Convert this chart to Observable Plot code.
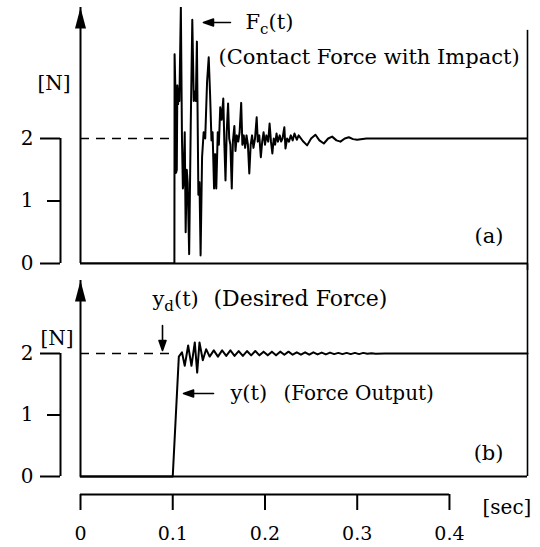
<!DOCTYPE html>
<html><head><meta charset="utf-8">
<script src="https://cdn.jsdelivr.net/npm/d3@7"></script>
<script src="https://cdn.jsdelivr.net/npm/@observablehq/plot@0.6"></script>
<style>
body{margin:0;background:#fff;}
#chart{position:relative;width:540px;height:547px;overflow:hidden;}
#chart svg{position:absolute;left:0;}
</style></head><body><div id="chart"></div>
<script>
// ---------- data ----------
// (a) contact force with impact, Fc(t) [N]
const fcTime = [0,0.1018,0.1020,0.1030,0.1036,0.1044,0.1050,0.1058,0.1066,0.1072,0.1088,0.1100,0.1110,0.1118,0.1130,0.1140,0.1152,0.1162,0.1178,0.1195,0.1212,0.1228,0.1238,0.1250,0.1262,0.1278,0.1290,0.1302,0.1318,0.1335,0.1352,0.1372,0.1390,0.1405,0.1420,0.1432,0.1448,0.1460,0.1472,0.1488,0.1500,0.1515,0.1530,0.1548,0.1560,0.1572,0.1585,0.1600,0.1612,0.1625,0.1640,0.1652,0.1668,0.1680,0.1695,0.1710,0.1725,0.1742,0.1755,0.1770,0.1785,0.1800,0.1815,0.1830,0.1845,0.1860,0.1875,0.1892,0.1910,0.1922,0.1938,0.1955,0.1970,0.1985,0.2000,0.2015,0.2035,0.2050,0.2065,0.2080,0.2095,0.2110,0.2125,0.2140,0.2160,0.2175,0.2190,0.2210,0.2222,0.2240,0.2260,0.2280,0.2300,0.2320,0.2345,0.2365,0.2410,0.2457,0.2500,0.2547,0.2590,0.2638,0.2685,0.2728,0.2775,0.2818,0.2865,0.2909,0.2955,0.2999,0.3100,0.4846];
const fcValue = [0,0,3.35,2.7,1.45,1.5,2.85,2.55,2.8,2.6,4.1,2.0,1.2,1.3,2.1,0.5,1.5,1.3,0.15,2.2,3.9,2.6,2.75,2.6,3.55,1.1,1.3,0.13,1.7,2.1,2.0,2.9,3.3,2.7,1.97,2.1,1.2,1.75,1.2,2.1,1.9,2.5,2.3,2.64,1.9,1.33,2.1,2.56,2.0,1.9,1.2,1.95,2.2,1.8,2.05,1.95,2.1,2.57,1.9,2.05,1.85,2.05,1.9,1.44,1.9,2.05,1.85,2.0,2.34,1.95,2.05,1.7,1.95,2.1,1.9,2.05,1.95,2.24,1.95,1.76,2.0,1.9,2.08,1.95,2.05,1.95,2.0,2.18,1.84,2.0,1.95,2.05,1.97,2.08,1.98,2.05,1.96,1.89,2.0,2.06,1.97,1.92,2.0,2.03,1.97,1.95,2.0,2.02,1.99,1.98,2.0,2.0];
// (b) force output y(t) [N]
const yTime = [0,0.1000,0.1066,0.1100,0.1130,0.1167,0.1203,0.1239,0.1265,0.1290,0.1326,0.1362,0.1400,0.1445,0.1490,0.1535,0.1580,0.1625,0.1670,0.1715,0.1760,0.1805,0.1850,0.1895,0.1940,0.1985,0.2030,0.2075,0.2120,0.2165,0.2210,0.2255,0.2300,0.2345,0.2390,0.2435,0.2480,0.2525,0.2570,0.2615,0.2660,0.2705,0.2750,0.2795,0.2840,0.2885,0.2930,0.2975,0.3020,0.3065,0.3110,0.3155,0.3200,0.3300,0.4846];
const yValue = [0,0,1.95,2.02,1.8,2.13,1.8,2.18,1.69,2.18,1.89,2.07,1.95,2.05,1.95,2.05,1.96,2.05,1.96,2.04,1.96,2.04,1.97,2.04,1.97,2.03,1.97,2.03,1.97,2.03,1.98,2.03,1.98,2.02,1.98,2.02,1.98,2.02,1.985,2.015,1.985,2.015,1.99,2.01,1.99,2.01,1.99,2.01,1.99,2.01,1.995,2.005,1.995,2.0,2.0];
// desired force y_d(t)
const desiredForce = [2];
const desiredUntil = 0.102;
// tick values / labels
const yTicks = [0, 1, 2];
const xTicks = [0, 0.1, 0.2, 0.3, 0.4];
const xTickLabels = ["0", "0.1", "0.2", "0.3", "0.4"];
const xMax = 0.4846;

// ---------- helpers ----------
const fcData = fcTime.map((t, i) => ({t, v: fcValue[i]}));
const yData = yTime.map((t, i) => ({t, v: yValue[i]}));
const FONT = "DejaVu Serif";
const head = {draw(ctx, l) { ctx.moveTo(-5.5, 0); ctx.lineTo(0, -l); ctx.lineTo(5.5, 0); ctx.closePath(); }};
const pointer = {draw(ctx, l) { ctx.moveTo(0, 0); ctx.lineTo(0, -l); ctx.moveTo(-3.5, -l + 10); ctx.lineTo(0, -l); ctx.lineTo(3.5, -l + 10); ctx.closePath(); }};
const style = {fontFamily: FONT, fontSize: "19px", color: "black", background: "transparent", overflow: "visible"};
const txt = (s, o) => Plot.text([s], {fontFamily: FONT, fontSize: 20, fill: "black", lineAnchor: "bottom", textAnchor: "start", ...o});
function leftAxis(top) {
  return [
    Plot.ruleX([0], {y1: 0, y2: top, strokeWidth: 2}),
    Plot.vector([0], {x: 0, y: top, length: 21, anchor: "end", shape: head, fill: "black", stroke: "none"}),
    Plot.ruleX([0], {y1: 0, y2: 2, dx: -20, strokeWidth: 2}),
    Plot.axisY({ticks: [0, 2], tickSize: 20, dx: -20, tickFormat: () => "", strokeWidth: 2, label: null}),
    Plot.axisY({ticks: [1], tickSize: 13, dx: -20, tickFormat: () => "", strokeWidth: 2, label: null}),
    Plot.axisY({ticks: yTicks, tickSize: 0, tickPadding: 47, tickFormat: d => String(d), fontSize: 20, label: null})
  ];
}

// ---------- panel (a) ----------
const topA = 4.096;
const plotA = Plot.plot({
  width: 540, height: 270,
  marginLeft: 80, marginRight: 13, marginTop: 7, marginBottom: 7,
  style,
  x: {domain: [0, xMax], axis: null},
  y: {domain: [0, topA], axis: null},
  marks: [
    ...leftAxis(topA),
    Plot.ruleY([0], {x1: 0, x2: xMax, strokeWidth: 2}),
    Plot.ruleX([xMax], {y1: -0.112, y2: 3.73, strokeWidth: 1.6}),
    Plot.ruleY(desiredForce, {x1: 0, x2: desiredUntil, strokeDasharray: "9,7", strokeWidth: 1.6}),
    Plot.line(fcData, {x: "t", y: "v", strokeWidth: 2, stroke: "black", clip: true}),
    Plot.vector([0], {x: 0.1333, y: 3.856, length: 27, rotate: -90, anchor: "end", shape: pointer, fill: "black", stroke: "black", strokeWidth: 1.6}),
    txt("F_c(t)", {x: 0.1789, y: 3.76, fontSize: 21}),
    txt("(Contact Force with Impact)", {x: 0.1496, y: 3.2, fontSize: 21}),
    txt("[N]", {x: 0, y: 2.784, dx: -10, textAnchor: "end"}),
    txt("(a)", {x: xMax, y: 0.336, dx: -24, textAnchor: "end", fontSize: 21})
  ]
});

// ---------- panel (b) ----------
const topB = 3.187;
const plotB = Plot.plot({
  width: 540, height: 284,
  marginLeft: 80, marginRight: 13, marginTop: 17, marginBottom: 71,
  style,
  x: {domain: [0, xMax], axis: null},
  y: {domain: [0, topB], axis: null},
  marks: [
    ...leftAxis(topB),
    Plot.ruleY([0], {x1: 0, x2: xMax, strokeWidth: 2}),
    Plot.ruleX([xMax], {y1: 0, y2: 3.46, strokeWidth: 1.6}),
    Plot.ruleY(desiredForce, {x1: 0, x2: desiredUntil, strokeDasharray: "9,7", strokeWidth: 1.6}),
    Plot.line(yData, {x: "t", y: "v", strokeWidth: 2, stroke: "black"}),
    Plot.vector([0], {x: 0.0889, y: 2.05, length: 25, rotate: 180, anchor: "end", shape: pointer, fill: "black", stroke: "black", strokeWidth: 1.6}),
    Plot.vector([0], {x: 0.1117, y: 1.35, length: 30, rotate: -90, anchor: "end", shape: pointer, fill: "black", stroke: "black", strokeWidth: 1.6}),
    txt("y_d(t)", {x: 0.078, y: 2.78, fontSize: 21}),
    txt("(Desired Force)", {x: 0.1442, y: 2.78, fontSize: 22}),
    txt("y(t)", {x: 0.1626, y: 1.236, fontSize: 21}),
    txt("(Force Output)", {x: 0.22, y: 1.236}),
    txt("[N]", {x: 0, y: 2.146, dx: -7, textAnchor: "end"}),
    txt("(b)", {x: xMax, y: 0.276, dx: -24, textAnchor: "end", fontSize: 21}),
    txt("[sec]", {x: 0.4358, y: -0.553, dy: 3}),
    Plot.ruleY([0], {x1: 0, x2: 0.4, dy: 18, strokeWidth: 2}),
    Plot.axisX({ticks: xTicks, tickFormat: d => xTickLabels[xTicks.indexOf(d)], tickSize: 16, dy: 18, tickPadding: 16, strokeWidth: 2, fontSize: 19, label: null})
  ]
});

function subscripts(svg) {
  const ns = "http://www.w3.org/2000/svg";
  svg.querySelectorAll("text").forEach(t => {
    const m = t.textContent.match(/^(.*?)_(.)(.*)$/);
    if (!m) return;
    t.textContent = "";
    const a = document.createElementNS(ns, "tspan"); a.textContent = m[1];
    const b = document.createElementNS(ns, "tspan"); b.textContent = m[2];
    b.setAttribute("font-size", "15"); b.setAttribute("dy", "5");
    const c = document.createElementNS(ns, "tspan"); c.textContent = m[3]; c.setAttribute("dy", "-5");
    t.append(a, b, c);
  });
}
subscripts(plotA); subscripts(plotB);
plotA.style.top = "0px";
plotB.style.top = "263px";
const chart = document.getElementById("chart");
chart.append(plotA, plotB);
</script></body></html>
